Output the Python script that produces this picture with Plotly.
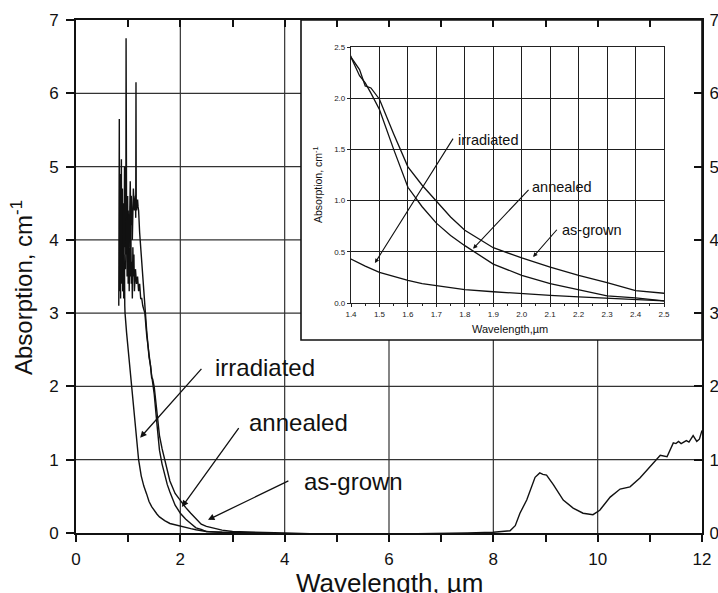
import plotly.graph_objects as go

# ---------------- data ----------------
irr_x = [0.820, 0.825, 0.830, 0.835, 0.840, 0.845, 0.850, 0.855, 0.860, 0.865,
         0.870, 0.875, 0.880, 0.885, 0.890, 0.895, 0.900, 0.905, 0.910, 0.915,
         0.920, 0.925, 0.930, 0.935, 0.940,
         0.970, 1.000, 1.070, 1.120, 1.160, 1.200, 1.250, 1.300, 1.355, 1.400, 1.450,
         1.500, 1.550, 1.600, 1.650, 1.700, 1.800, 1.900, 2.000, 2.100, 2.200,
         2.300, 2.400, 2.500, 2.800, 3.200, 3.600]
irr_y = [3.10, 3.90, 5.65, 3.30, 4.60, 3.50, 4.90, 3.20, 4.30, 3.70,
         5.10, 3.40, 4.40, 3.60, 4.70, 3.30, 4.00, 3.50, 4.20, 3.20,
         3.80, 3.40, 3.60, 3.10, 3.00,
         2.73, 2.50, 2.00, 1.60, 1.27, 1.00, 0.78, 0.64, 0.53, 0.43, 0.36,
         0.30, 0.26, 0.22, 0.19, 0.17, 0.13, 0.11, 0.09, 0.075, 0.06,
         0.045, 0.03, 0.02, 0.01, 0.0, 0.0]

ann_x = [0.900, 0.910, 0.920, 0.930, 0.940, 0.950, 0.955, 0.960, 0.965, 0.970,
         0.980, 0.990, 1.000, 1.010, 1.020, 1.030, 1.040, 1.050, 1.060, 1.070,
         1.080, 1.090, 1.100, 1.110, 1.120, 1.140, 1.160, 1.180, 1.200, 1.220,
         1.240, 1.260, 1.280, 1.300, 1.320, 1.355, 1.400, 1.430, 1.450, 1.470,
         1.500, 1.550, 1.600, 1.650, 1.700, 1.750, 1.800, 1.900, 2.000, 2.100,
         2.200, 2.300, 2.400, 2.500, 2.600, 2.800, 3.000, 3.500]
ann_y = [3.30, 4.50, 3.60, 5.00, 3.90, 4.70, 3.80, 6.75, 4.10, 4.20,
         3.50, 4.60, 3.40, 4.10, 3.30, 3.90, 3.50, 4.30, 3.40, 3.70,
         3.20, 3.90, 3.50, 3.80, 3.30, 3.60, 3.40, 3.50, 3.30, 3.40,
         3.20, 3.20, 3.10, 3.05, 3.00, 2.70, 2.40, 2.22, 2.15, 2.05,
         1.89, 1.50, 1.13, 0.94, 0.78, 0.66, 0.56, 0.38, 0.27, 0.19,
         0.13, 0.07, 0.05, 0.02, 0.015, 0.008, 0.003, 0.0]

ag_x = [0.950, 0.970, 0.990, 1.000, 1.020, 1.040, 1.050, 1.060, 1.080, 1.100,
        1.120, 1.140, 1.145, 1.150, 1.155, 1.160, 1.180, 1.190, 1.200, 1.220,
        1.240, 1.260, 1.280, 1.300, 1.320, 1.355, 1.400, 1.430, 1.450, 1.470,
        1.500, 1.550, 1.600, 1.650, 1.700, 1.750, 1.800, 1.900, 2.000, 2.100,
        2.200, 2.300, 2.400, 2.500, 2.600, 2.800, 3.000, 3.500, 4.000, 4.500,
        5.000, 5.500, 6.000, 6.500, 7.000, 7.500, 8.000, 8.200, 8.320, 8.420,
        8.510, 8.640, 8.760, 8.800, 8.890, 8.950, 9.020, 9.150, 9.340, 9.530,
        9.720, 9.910, 10.040, 10.240, 10.430, 10.620, 10.810, 11.000, 11.200, 11.330,
        11.450, 11.500, 11.550, 11.600, 11.700, 11.750, 11.830, 11.900, 11.950, 12.000]
ag_y = [3.60, 4.30, 3.70, 4.40, 3.90, 4.80, 4.20, 4.60, 4.00, 4.70,
        4.40, 4.60, 4.30, 6.15, 4.50, 4.40, 4.55, 4.45, 4.40, 4.10,
        3.90, 3.70, 3.55, 3.30, 3.04, 2.76, 2.40, 2.28, 2.12, 2.10,
        1.99, 1.65, 1.33, 1.15, 1.00, 0.84, 0.71, 0.54, 0.44, 0.35,
        0.27, 0.20, 0.12, 0.09, 0.07, 0.04, 0.02, 0.005, 0.0, -0.01,
        -0.02, -0.01, -0.02, -0.01, -0.01, 0.0, 0.01, 0.02, 0.03, 0.10,
        0.27, 0.45, 0.70, 0.76, 0.82, 0.80, 0.79, 0.66, 0.45, 0.34,
        0.27, 0.25, 0.31, 0.49, 0.60, 0.63, 0.75, 0.90, 1.06, 1.04,
        1.23, 1.22, 1.25, 1.22, 1.26, 1.24, 1.33, 1.25, 1.28, 1.40]

assert len(irr_x) == len(irr_y) and len(ann_x) == len(ann_y) and len(ag_x) == len(ag_y)

main_x_ticks = list(range(0, 13))
main_x_labels = [str(v) if v % 2 == 0 else "" for v in main_x_ticks]
main_y_ticks = list(range(0, 8))
main_x_grid = [2, 4, 6, 8, 10]
main_y_grid = [1, 2, 3, 4, 5, 6]

labels = ["irradiated", "annealed", "as-grown"]
# label text positions / arrow heads / arrow tails (data coordinates)
main_label_pos = [(2.63, 2.26), (3.28, 1.51), (4.33, 0.70)]
main_arrow_head = [(1.23, 1.30), (2.03, 0.355), (2.53, 0.18)]
main_arrow_tail = [(2.43, 2.26), (3.14, 1.45), (4.10, 0.72)]
inset_label_pos = [(1.769, 1.59), (2.029, 1.13), (2.135, 0.71)]
inset_arrow_head = [(1.484, 0.39), (1.829, 0.53), (2.04, 0.45)]
inset_arrow_tail = [(1.762, 1.62), (2.029, 1.12), (2.128, 0.73)]

# ---------------- figure ----------------
FONT = "Liberation Sans, Arial, sans-serif"
INK = "#111111"
W, H = 718, 593
ML, MR, MT, MB = 76, 16, 20, 60
PW, PH = W - ML - MR, H - MT - MB


def px_x(p):
    return (p - ML) / PW


def px_y(p):
    return (H - MB - p) / PH


inset_xdom = [px_x(351), px_x(664)]
inset_ydom = [px_y(303), px_y(47)]
box = dict(x0=px_x(301), x1=1.0, y0=px_y(340), y1=1.0)

fig = go.Figure()
series = [(irr_x, irr_y), (ann_x, ann_y), (ag_x, ag_y)]
for (xs, ys), name in zip(series, labels):
    fig.add_trace(go.Scatter(x=xs, y=ys, mode="lines", name=name,
                             line=dict(color=INK, width=1.4),
                             xaxis="x", yaxis="y", hoverinfo="skip"))
for (xs, ys), name in zip(series, labels):
    fig.add_trace(go.Scatter(x=xs, y=ys, mode="lines", name=name,
                             line=dict(color=INK, width=1.3),
                             xaxis="x2", yaxis="y2", hoverinfo="skip"))
# empty trace to hold the mirrored (top/right) frame axes
fig.add_trace(go.Scatter(x=[], y=[], xaxis="x3", yaxis="y3", hoverinfo="skip"))

shapes = []
for v in main_x_grid:
    shapes.append(dict(type="line", xref="x", yref="paper", x0=v, x1=v, y0=0, y1=1,
                       layer="below", line=dict(color="#333333", width=1.2)))
for v in main_y_grid:
    shapes.append(dict(type="line", xref="paper", yref="y", x0=0, x1=1, y0=v, y1=v,
                       layer="below", line=dict(color="#333333", width=1.2)))
shapes.append(dict(type="rect", xref="paper", yref="paper", layer="below",
                   fillcolor="white", line=dict(color=INK, width=1.6), **box))
shapes.append(dict(type="rect", xref="paper", yref="paper", layer="below",
                   x0=inset_xdom[0], x1=inset_xdom[1], y0=inset_ydom[0], y1=inset_ydom[1],
                   fillcolor="#c6c6c6", line=dict(width=0)))

ann = []
for t, (lx, ly), (hx, hy), (tx, ty) in zip(labels, main_label_pos, main_arrow_head, main_arrow_tail):
    ann.append(dict(text=t, x=lx, y=ly, xref="x", yref="y", showarrow=False,
                    xanchor="left", yanchor="middle", font=dict(size=24, color=INK)))
    ann.append(dict(text="", x=hx, y=hy, ax=tx, ay=ty, xref="x", yref="y",
                    axref="x", ayref="y", showarrow=True, arrowhead=2, arrowsize=1,
                    arrowwidth=1.3, arrowcolor=INK, standoff=0, startstandoff=0))
for t, (lx, ly), (hx, hy), (tx, ty) in zip(labels, inset_label_pos, inset_arrow_head, inset_arrow_tail):
    ann.append(dict(text=t, x=lx, y=ly, xref="x2", yref="y2", showarrow=False,
                    xanchor="left", yanchor="middle", font=dict(size=14.5, color=INK)))
    ann.append(dict(text="", x=hx, y=hy, ax=tx, ay=ty, xref="x2", yref="y2",
                    axref="x2", ayref="y2", showarrow=True, arrowhead=2, arrowsize=0.8,
                    arrowwidth=1.1, arrowcolor=INK, standoff=0, startstandoff=0))
# axis titles
ann.append(dict(text="Absorption, cm<sup>-1</sup>", x=px_x(22), y=px_y(288),
                xref="paper", yref="paper", showarrow=False, textangle=-90,
                xanchor="center", yanchor="middle", font=dict(size=24, color=INK)))
ann.append(dict(text="Wavelength, µm", x=0.5, y=px_y(583),
                xref="paper", yref="paper", showarrow=False,
                xanchor="center", yanchor="middle", font=dict(size=26, color=INK)))
ann.append(dict(text="Absorption, cm<sup>-1</sup>", x=px_x(317), y=px_y(185),
                xref="paper", yref="paper", showarrow=False, textangle=-90,
                xanchor="center", yanchor="middle", font=dict(size=10.5, color=INK)))
ann.append(dict(text="Wavelength,µm", x=px_x(510), y=px_y(329),
                xref="paper", yref="paper", showarrow=False,
                xanchor="center", yanchor="middle", font=dict(size=11, color=INK)))

axis_common = dict(showgrid=False, zeroline=False, showline=True, linecolor=INK,
                   linewidth=2, tickcolor=INK, tickwidth=1.5, automargin=False,
                   tickfont=dict(size=17, color=INK, family=FONT))

fig.update_layout(
    width=W, height=H,
    margin=dict(l=ML, r=MR, t=MT, b=MB, pad=0, autoexpand=False),
    paper_bgcolor="white", plot_bgcolor="white",
    showlegend=False,
    font=dict(family=FONT, color=INK),
    xaxis=dict(range=[0, 12], domain=[0, 1], anchor="y", tickmode="array",
               tickvals=main_x_ticks, ticktext=main_x_labels, ticks="outside",
               ticklen=7, ticklabelstandoff=3, **axis_common),
    yaxis=dict(range=[0, 7], domain=[0, 1], anchor="x", tickmode="array",
               tickvals=main_y_ticks, ticks="outside", ticklen=8,
               ticklabelstandoff=4, **axis_common),
    xaxis3=dict(range=[0, 12], overlaying="x", side="top", anchor="y",
                tickmode="array", tickvals=main_x_ticks, ticks="inside", ticklen=7,
                showticklabels=False, **axis_common),
    yaxis3=dict(range=[0, 7], overlaying="y", side="right", anchor="x",
                tickmode="array", tickvals=main_y_ticks, ticks="inside", ticklen=8,
                showticklabels=True, ticklabelstandoff=2, **axis_common),
    xaxis2=dict(range=[1.4, 2.5], domain=inset_xdom, anchor="y2", tick0=1.4, dtick=0.1,
                ticks="outside", ticklen=3, tickcolor="#222", tickwidth=1, automargin=False,
                minor=dict(dtick=0.05, ticks="outside", ticklen=2, tickcolor="#222"),
                showgrid=True, gridcolor="#1e1e1e", gridwidth=1.2, zeroline=False,
                showline=True, mirror=True, linecolor="#222", linewidth=1.2,
                tickformat=".1f", tickfont=dict(size=8, color="#222", family=FONT)),
    yaxis2=dict(range=[0, 2.5], domain=inset_ydom, anchor="x2", tick0=0, dtick=0.5,
                ticks="outside", ticklen=3, tickcolor="#222", tickwidth=1, automargin=False,
                showgrid=True, gridcolor="#1e1e1e", gridwidth=1.2, zeroline=False,
                showline=True, mirror=True, linecolor="#222", linewidth=1.2,
                tickformat=".1f", tickfont=dict(size=8, color="#222", family=FONT)),
    shapes=shapes,
    annotations=ann,
)

# remove the browser's default 8px page margin so the figure sits at (0, 0)
fig.write_html("out.html", config={"displayModeBar": False},
               post_script="document.body.style.margin='0';document.body.style.overflow='hidden';")
